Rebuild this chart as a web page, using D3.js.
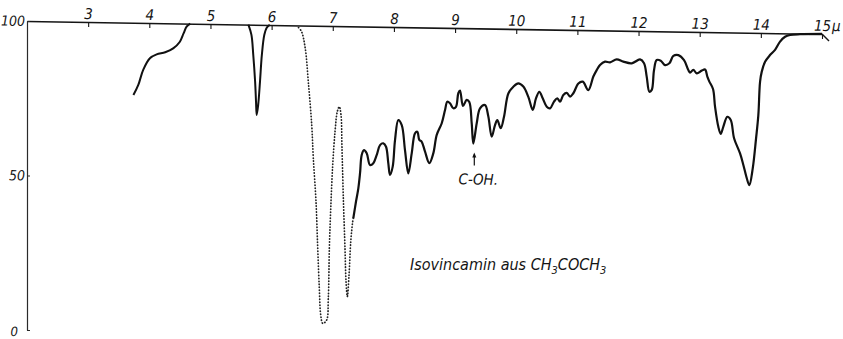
<!DOCTYPE html>
<html>
<head>
<meta charset="utf-8">
<script src="https://cdn.jsdelivr.net/npm/d3@7"></script>
<style>
  body { margin: 0; background: #fff; }
  svg text { font-family: "Liberation Sans Narrow", "DejaVu Sans Condensed", sans-serif; font-style: italic; fill: #151515; }
</style>
</head>
<body>
<svg id="chart" width="843" height="339"></svg>
<script>
// wavelength ticks (micron) and transmission ticks (%)
var micronTicks = [3, 4, 5, 6, 7, 8, 9, 10, 11, 12, 13, 14, 15];
var percentTicks = [0, 50, 100];

// [micron, % transmission]
var traceStart = [[3.74,76.6],[3.82,79.9],[3.90,84.8],[4.01,88.6],[4.12,89.9],[4.26,90.6],[4.39,91.9],[4.50,94.1],
  [4.56,96.8],[4.61,99.0],[4.67,100]];

var band58 = [[5.62,100],[5.67,96.7],[5.70,90.2],[5.73,81.6],[5.745,75.1],[5.756,70.8],
  [5.78,74.0],[5.81,81.6],[5.84,90.2],[5.88,96.7],[5.92,99.1],[5.97,100]];

// dotted part (strong bands, off scale for the solvent run)
var traceDotted = [[6.44,99.3],[6.49,98.0],[6.55,92.6],[6.60,81.8],[6.656,67.8],[6.682,57.1],[6.726,43.0],[6.754,28.0],
  [6.78,15.0],[6.803,6.4],[6.836,3.7],[6.90,4.8],[6.927,11.8],[6.944,28.0],[6.967,41.0],[6.999,55.0],[7.037,65.8],
  [7.074,72.3],[7.107,73.9],[7.135,71.2],[7.151,60.5],[7.173,44.3],[7.20,28.1],[7.217,17.3],[7.238,12.5],[7.266,19.5],
  [7.294,30.3],[7.326,36.8],[7.336,37.9]];

var traceMain = [[7.336,37.9],[7.380,43.3],[7.418,47.6],[7.446,52.5],[7.473,58.4],[7.511,60.0],[7.555,59.0],[7.609,55.2],
  [7.663,55.8],[7.719,58.5],[7.773,61.7],[7.827,62.3],[7.871,61.2],[7.908,55.9],[7.936,52.1],[7.980,54.8],[8.018,63.4],
  [8.072,69.9],[8.128,68.3],[8.181,60.2],[8.235,52.7],[8.291,59.2],[8.345,65.7],[8.383,66.2],[8.415,63.6],[8.455,63.0],
  [8.509,59.8],[8.579,56.1],[8.644,59.3],[8.700,65.3],[8.782,69.1],[8.836,73.4],[8.873,76.1],[8.917,75.6],[8.971,74.0],
  [9.015,74.5],[9.053,78.9],[9.081,79.8],[9.130,74.8],[9.190,76.8],[9.233,76.1],[9.272,69.2],[9.298,62.7],[9.354,69.3],
  [9.408,74.1],[9.490,75.2],[9.544,71.5],[9.599,65.0],[9.653,68.8],[9.691,70.4],[9.747,67.8],[9.800,71.5],[9.871,79.1],
  [9.953,81.3],[10.034,82.4],[10.116,81.4],[10.198,78.1],[10.270,73.9],[10.324,77.7],[10.378,79.8],[10.433,77.7],
  [10.499,75.0],[10.553,74.5],[10.618,76.7],[10.672,77.8],[10.716,76.7],[10.770,78.9],[10.826,79.6],[10.880,78.4],
  [10.934,79.5],[11.016,82.7],[11.088,83.3],[11.179,80.6],[11.261,85.0],[11.316,87.1],[11.370,88.8],[11.452,89.9],
  [11.534,89.7],[11.643,90.7],[11.751,90.0],[11.889,89.5],[12.025,90.8],[12.090,89.6],[12.134,85.2],[12.177,80.4],
  [12.216,81.0],[12.253,87.4],[12.297,90.7],[12.363,90.5],[12.433,89.1],[12.504,89.7],[12.569,92.1],[12.651,92.4],
  [12.744,90.8],[12.814,87.6],[12.842,86.8],[12.896,87.7],[12.952,86.6],[13.033,87.5],[13.088,87.9],[13.125,85.6],
  [13.158,84.0],[13.218,81.6],[13.251,75.9],[13.305,69.4],[13.344,67.1],[13.387,69.5],[13.452,72.7],[13.508,71.7],
  [13.562,65.8],[13.660,60.9],[13.714,57.2],[13.770,52.9],[13.812,50.7],[13.868,56.2],[13.922,65.9],[13.959,73.4],
  [13.987,84.2],[14.015,87.5],[14.069,90.7],[14.150,92.9],[14.232,94.6],[14.314,97.3],[14.396,98.9],[14.477,99.5],
  [14.640,99.8],[15.0,100]];

var cohMicron = 9.298, cohPercent = 62.7;

var margin = {top: 21, left: 27};
var width = 795, height = 309;
var tilt = 0.934; // the recorder paper is slightly tilted

var svg = d3.select("#chart");
var g = svg.append("g")
  .attr("transform", "translate(" + margin.left + "," + margin.top + ") skewY(" + tilt + ")");

var x = d3.scaleLinear().domain([2, 15]).range([0, width]);
var y = d3.scaleLinear().domain([0, 100]).range([height, 0]);

// top wavelength axis
var xAxis = d3.axisTop(x).tickValues(micronTicks).tickSize(-5).tickSizeOuter(0).tickPadding(3);
var xg = g.append("g").call(xAxis).attr("font-size", null).attr("font-family", null);
xg.select(".domain").attr("stroke", "#151515").attr("stroke-width", 1.6);
xg.selectAll(".tick line").attr("stroke", "#151515").attr("stroke-width", 1.1);
xg.selectAll(".tick text").style("font-size", "15px").attr("fill", "#151515");

g.append("text").attr("x", x(15) + 10).attr("y", -3).style("font-size", "15px").text("μ");
g.append("path")
  .attr("d", "M" + x(15) + "," + y(100) + "l7,7")
  .attr("stroke", "#151515").attr("stroke-width", 1.4).attr("fill", "none");

// left percent axis
var yAxis = d3.axisLeft(y).tickValues(percentTicks).tickSize(-3).tickSizeOuter(0).tickPadding(2);
var yg = g.append("g").call(yAxis).attr("font-size", null).attr("font-family", null);
yg.select(".domain").attr("stroke", "#2a2a2a").attr("stroke-width", 1.2);
yg.selectAll(".tick line").attr("stroke", "#2a2a2a").attr("stroke-width", 1.1);
yg.selectAll(".tick text").style("font-size", "14px").attr("fill", "#151515");
yg.selectAll(".tick").filter(d => d === 0).select("text")
  .attr("x", -9).attr("dy", "0.45em").style("font-size", "13px");

var line = d3.line()
  .x(d => x(d[0]))
  .y(d => y(d[1]))
  .curve(d3.curveCatmullRom.alpha(0.5));

[traceStart, band58].forEach(function (seg) {
  g.append("path").datum(seg)
    .attr("d", line).attr("fill", "none")
    .attr("stroke", "#111").attr("stroke-width", 2).attr("stroke-linejoin", "round");
});

g.append("path").datum(traceDotted)
  .attr("d", line).attr("fill", "none")
  .attr("stroke", "#222").attr("stroke-width", 1.7)
  .attr("stroke-linecap", "round").style("stroke-dasharray", "0.4,2.6");

g.append("path").datum(traceMain)
  .attr("d", line).attr("fill", "none")
  .attr("stroke", "#111").attr("stroke-width", 2.2).attr("stroke-linejoin", "round");

// C-OH marker
var cx = x(cohMicron) + 1, cy = y(cohPercent);
g.append("line")
  .attr("x1", cx).attr("x2", cx).attr("y1", cy + 22).attr("y2", cy + 11)
  .attr("stroke", "#111").attr("stroke-width", 1.2);
g.append("path")
  .attr("d", "M" + cx + "," + (cy + 9) + "l-2,5h4z").attr("fill", "#111");
g.append("text")
  .attr("x", cx + 4).attr("y", cy + 41)
  .attr("text-anchor", "middle").style("font-size", "15px").text("C-OH.");

// sample caption
var cap = svg.append("text").attr("x", 410).attr("y", 270).style("font-size", "16px");
cap.append("tspan").text("Isovincamin aus  CH");
cap.append("tspan").attr("dy", 4).style("font-size", "11px").text("3");
cap.append("tspan").attr("dy", -4).text("COCH");
cap.append("tspan").attr("dy", 4).style("font-size", "11px").text("3");
</script>
</body>
</html>
